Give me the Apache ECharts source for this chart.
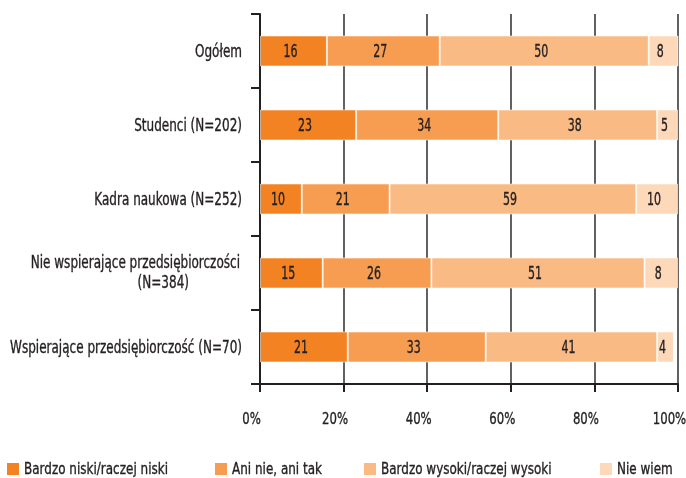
<!DOCTYPE html>
<html>
<head>
<meta charset="utf-8">
<script src="https://cdn.jsdelivr.net/npm/echarts@6/dist/echarts.min.js"></script>
<style>
  html, body { margin: 0; padding: 0; background: #fff; }
  #chart { width: 686px; height: 478px; }
</style>
</head>
<body>
<div id="chart"></div>
<script>
// Groups, top to bottom
const categories = [
  'Ogółem',
  'Studenci (N=202)',
  'Kadra naukowa (N=252)',
  'Nie wspierające przedsiębiorczości\n(N=384)',
  'Wspierające przedsiębiorczość (N=70)'
];

// Answer shares, percent
const seriesNames = [
  'Bardzo niski/raczej niski',
  'Ani nie, ani tak',
  'Bardzo wysoki/raczej wysoki',
  'Nie wiem'
];
const lowValues      = [16, 23, 10, 15, 21];
const neutralValues  = [27, 34, 21, 26, 33];
const highValues     = [50, 38, 59, 51, 41];
const dontKnowValues = [8, 5, 10, 8, 4];

const xTicks = [0, 20, 40, 60, 80, 100];

const colors = ['#F28222', '#F79D52', '#FABA84', '#FDD9B9'];
const FONT = '"DejaVu Sans Condensed", "DejaVu Sans", sans-serif';
const TEXT = '#231F20';

const valueSets = [lowValues, neutralValues, highValues, dontKnowValues];

// Condensed look: measure text and squeeze it horizontally to the wanted width
const measureCtx = document.createElement('canvas').getContext('2d');
function squeeze(sample, targetWidth, size) {
  measureCtx.font = size + 'px ' + FONT;
  return targetWidth / measureCtx.measureText(sample).width;
}

const series = seriesNames.map((name, i) => ({
  name,
  type: 'bar',
  stack: 'total',
  barWidth: 31,
  data: valueSets[i],
  itemStyle: { color: colors[i], borderColor: 'rgba(255,255,255,0.55)', borderWidth: 1 },
  label: { show: false }
}));

const chart = echarts.init(document.getElementById('chart'));
chart.setOption({
  animation: false,
  color: colors,
  grid: { left: 260, right: 8, top: 14, bottom: 94, containLabel: false, outerBoundsMode: 'none' },
  xAxis: {
    type: 'value',
    min: 0,
    max: 100,
    interval: 20,
    axisLine: { show: true, lineStyle: { color: TEXT, width: 2 } },
    axisTick: { show: true, length: 8, lineStyle: { color: TEXT, width: 2 } },
    splitLine: { show: true, lineStyle: { color: '#3a3a3a', width: 1.6 } },
    axisLabel: { show: false }
  },
  yAxis: {
    type: 'category',
    inverse: true,
    data: categories,
    axisLine: { show: true, lineStyle: { color: TEXT, width: 2 } },
    axisTick: { show: true, length: 9, lineStyle: { color: TEXT, width: 2 } },
    axisLabel: { show: false }
  },
  series
});

// Text layer placed through the chart's own coordinate system
const toPx = (x, y) => chart.convertToPixel({ gridIndex: 0 }, [x, y]);
const textEl = (text, x, y, size, sx, align) => ({
  type: 'text',
  x, y,
  scaleX: sx,
  z: 100,
  silent: true,
  style: {
    text,
    fontFamily: FONT,
    fontSize: size,
    fill: TEXT,
    stroke: TEXT,
    lineWidth: 0.35,
    align: align || 'center',
    verticalAlign: 'middle'
  }
});

const elements = [];

// Category labels
const catSize = 17.5;
const catScale = squeeze('Wspierające przedsiębiorczość (N=70)', 232, catSize);
categories.forEach((cat, j) => {
  const cy = toPx(0, j)[1];
  const lines = cat.split('\n');
  if (lines.length === 1) {
    elements.push(textEl(lines[0], 242, cy + 1, catSize, catScale, 'right'));
  } else {
    elements.push(textEl(lines[0], 240, cy - 10, catSize, catScale, 'right'));
    elements.push(textEl(lines[1], 189, cy + 10, catSize, catScale, 'right'));
  }
});

// Percent tick labels
const tickSize = 16.5;
const tickScale = squeeze('40%', 26, tickSize);
xTicks.forEach(v => {
  const px = toPx(v, 0)[0];
  elements.push(textEl(v + '%', px - 8.5, 420, tickSize, tickScale, 'center'));
});

// Value labels in the middle of each segment
const valSize = 17;
const valScale = squeeze('50', 14, valSize);
categories.forEach((cat, j) => {
  let start = 0;
  valueSets.forEach(vals => {
    const end = start + vals[j];
    const mid = (start + Math.min(end, 100)) / 2;
    const p = toPx(mid, j);
    elements.push(textEl(String(vals[j]), p[0] - 3, p[1] + 1.5, valSize, valScale, 'center'));
    start = end;
  });
});

// Legend
const legendLefts = [7, 215, 364, 600];
const legendSize = 16.5;
const legendScale = squeeze('Bardzo niski/raczej niski', 144, legendSize);
seriesNames.forEach((name, i) => {
  elements.push({
    type: 'rect',
    z: 100,
    silent: true,
    shape: { x: legendLefts[i], y: 463, width: 12, height: 12 },
    style: { fill: colors[i] }
  });
  elements.push(textEl(name, legendLefts[i] + 17, 469.5, legendSize, legendScale, 'left'));
});

chart.setOption({ graphic: { elements } });
</script>
</body>
</html>
